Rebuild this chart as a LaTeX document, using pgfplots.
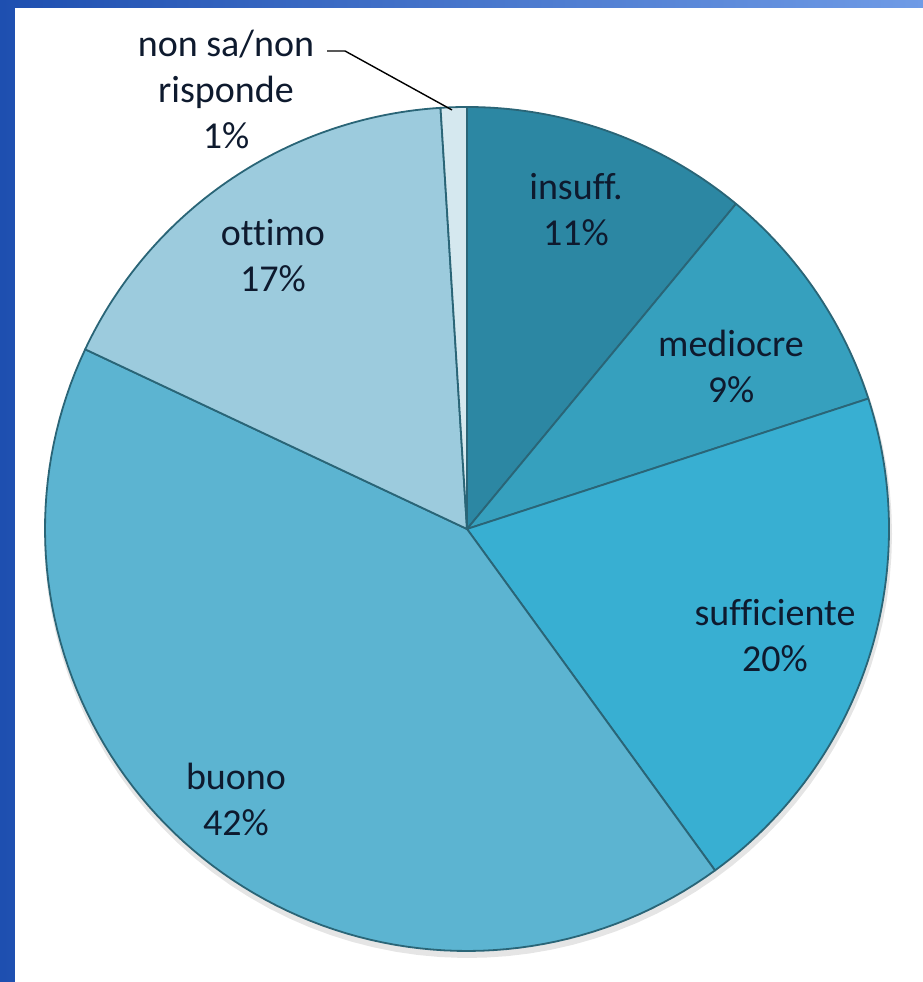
\documentclass[border=0pt]{standalone}
\usepackage{pgfplots}
\pgfplotsset{compat=1.18}
\usepackage{pgfplotstable}
\usepackage{fontspec}
\setmainfont{Carlito}[Ligatures={NoCommon,NoRequired,NoContextual}]
\definecolor{pie0}{HTML}{2C87A3}
\definecolor{pie1}{HTML}{36A0BE}
\definecolor{pie2}{HTML}{38AFD2}
\definecolor{pie3}{HTML}{5CB4D1}
\definecolor{pie4}{HTML}{9CCBDD}
\definecolor{pie5}{HTML}{D5E8EF}
\definecolor{edgec}{HTML}{2A6577}
\definecolor{labc}{HTML}{0E1A2E}
\definecolor{bgblue}{HTML}{1E4FB0}
\definecolor{bglight}{HTML}{6F9BE6}
\pgfplotstableread{
label value
insuff 11
mediocre 9
sufficiente 20
buono 42
ottimo 17
nonsa 1
}\piedata
\begin{document}
\begin{tikzpicture}[x=1bp,y=1bp,
  lab/.style={font=\fontsize{38bp}{46bp}\selectfont, text=labc, align=center}]
\fill[left color=bgblue, right color=bglight] (0,0) rectangle (923,982);
\fill[white] (15,0) rectangle (923,974);
\begin{axis}[
  scale only axis, width=923bp, height=982bp,
  xmin=0, xmax=923, ymin=0, ymax=982,
  axis lines=none, clip=false,
]
% shadow
\addplot[draw=none, fill=black, opacity=0.10, domain=0:360, samples=120, variable=\t]
  ({468+424*cos(\t)}, {448+424*sin(\t)});
\def\cum{0}
\pgfplotsforeachungrouped \i in {0,...,5}{%
  \pgfplotstablegetelem{\i}{value}\of\piedata
  \let\v\pgfplotsretval
  \pgfmathsetmacro\astart{90-3.6*\cum}%
  \pgfmathsetmacro\aend{90-3.6*(\cum+\v)}%
  \pgfmathsetmacro\cum{\cum+\v}%
  \edef\doplot{\noexpand\addplot[draw=edgec, line width=1.8bp, line join=round, fill=pie\i, domain=\aend:\astart, samples=90, variable=\noexpand\t]
    ({467+422*cos(\noexpand\t)}, {453+422*sin(\noexpand\t)}) -- (axis cs:467,453) -- cycle;}%
  \doplot
}
\node[lab] at (axis cs:576,772) {insuff.\\11\%};
\node[lab] at (axis cs:731,616) {mediocre\\9\%};
\node[lab] at (axis cs:775,346) {sufficiente\\20\%};
\node[lab] at (axis cs:236,183) {buono\\42\%};
\node[lab] at (axis cs:273,726) {ottimo\\17\%};
\node[lab] at (axis cs:226,893) {non sa/non\\risponde\\1\%};
\draw[black, line width=1.4bp] (axis cs:327,931) -- (axis cs:345,931) -- (axis cs:452,872);
\end{axis}
\end{tikzpicture}
\end{document}
